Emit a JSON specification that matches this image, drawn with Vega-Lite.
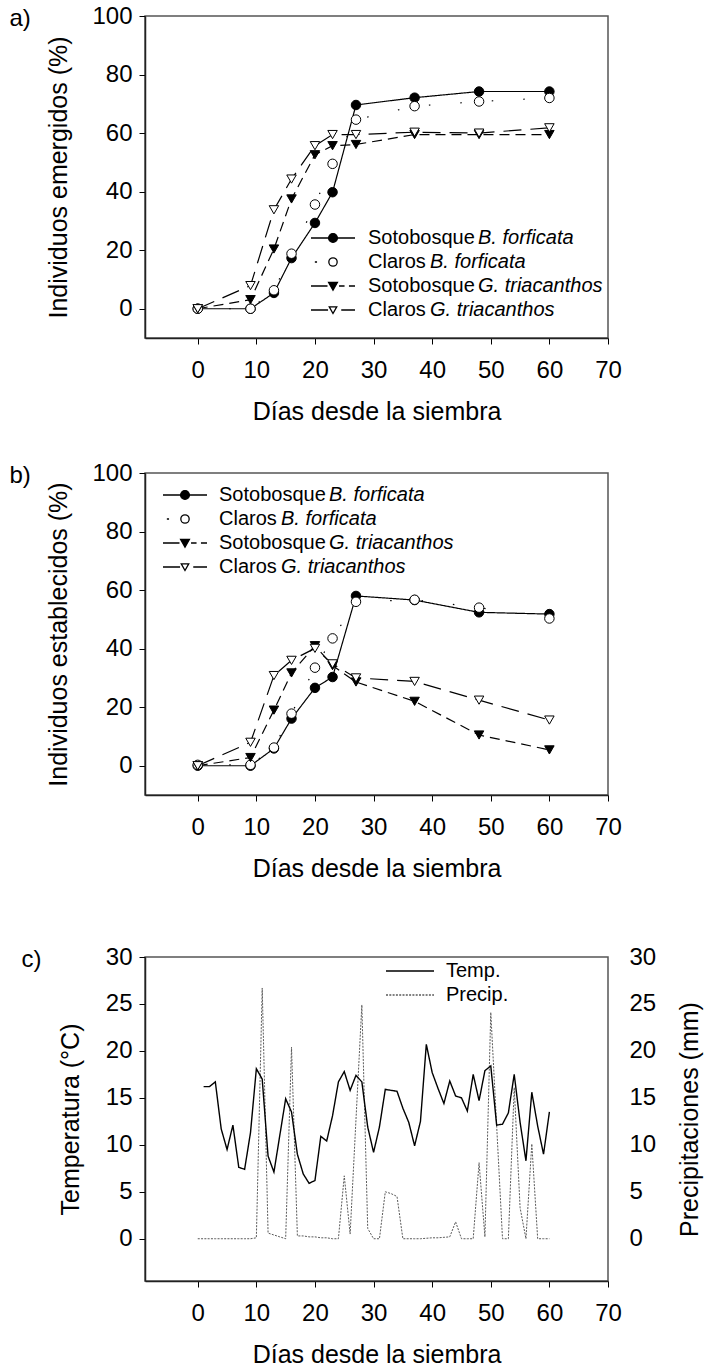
{
  "$schema": "https://vega.github.io/schema/vega-lite/v6.json",
  "background": "white",
  "padding": {"left": 8, "top": 3, "right": 0, "bottom": 0},
  "config": {
    "font": "Liberation Sans",
    "view": {"stroke": "#555", "strokeWidth": 1.5},
    "axis": {"grid": false, "labelFontSize": 24, "titleFontSize": 25, "titleFontWeight": "normal", "labelColor": "black", "titleColor": "black", "tickColor": "black", "tickSize": 6, "tickWidth": 1, "domainColor": "#222", "domainWidth": 1.5, "labelFlush": false, "labelOverlap": false},
    "axisX": {"labelPadding": 14, "titlePadding": 17},
    "axisY": {"labelPadding": 7, "titlePadding": 20},
    "legend": {"labelFontSize": 20, "labelColor": "black", "padding": 0, "rowPadding": 2}
  },
  "datasets": {
    "a": [
      {"serie": "Sotobosque B. forficata", "dia": 0, "valor": 0},
      {"serie": "Sotobosque B. forficata", "dia": 9, "valor": 0},
      {"serie": "Sotobosque B. forficata", "dia": 13, "valor": 5.4},
      {"serie": "Sotobosque B. forficata", "dia": 16, "valor": 17.3},
      {"serie": "Sotobosque B. forficata", "dia": 20, "valor": 29.3},
      {"serie": "Sotobosque B. forficata", "dia": 23, "valor": 39.8},
      {"serie": "Sotobosque B. forficata", "dia": 27, "valor": 69.6},
      {"serie": "Sotobosque B. forficata", "dia": 37, "valor": 72.1},
      {"serie": "Sotobosque B. forficata", "dia": 48, "valor": 74.2},
      {"serie": "Sotobosque B. forficata", "dia": 60, "valor": 74.2},
      {"serie": "Claros B. forficata", "dia": 0, "valor": 0},
      {"serie": "Claros B. forficata", "dia": 9, "valor": 0},
      {"serie": "Claros B. forficata", "dia": 13, "valor": 6.3},
      {"serie": "Claros B. forficata", "dia": 16, "valor": 18.8},
      {"serie": "Claros B. forficata", "dia": 20, "valor": 35.6},
      {"serie": "Claros B. forficata", "dia": 23, "valor": 49.5},
      {"serie": "Claros B. forficata", "dia": 27, "valor": 64.6},
      {"serie": "Claros B. forficata", "dia": 37, "valor": 69.2},
      {"serie": "Claros B. forficata", "dia": 48, "valor": 70.8},
      {"serie": "Claros B. forficata", "dia": 60, "valor": 72.0},
      {"serie": "Sotobosque G. triacanthos", "dia": 0, "valor": 0},
      {"serie": "Sotobosque G. triacanthos", "dia": 9, "valor": 3.1},
      {"serie": "Sotobosque G. triacanthos", "dia": 13, "valor": 20.4},
      {"serie": "Sotobosque G. triacanthos", "dia": 16, "valor": 37.5},
      {"serie": "Sotobosque G. triacanthos", "dia": 20, "valor": 52.6},
      {"serie": "Sotobosque G. triacanthos", "dia": 23, "valor": 55.7},
      {"serie": "Sotobosque G. triacanthos", "dia": 27, "valor": 56.1},
      {"serie": "Sotobosque G. triacanthos", "dia": 37, "valor": 59.5},
      {"serie": "Sotobosque G. triacanthos", "dia": 48, "valor": 59.5},
      {"serie": "Sotobosque G. triacanthos", "dia": 60, "valor": 59.5},
      {"serie": "Claros G. triacanthos", "dia": 0, "valor": 0},
      {"serie": "Claros G. triacanthos", "dia": 9, "valor": 7.9},
      {"serie": "Claros G. triacanthos", "dia": 13, "valor": 33.8},
      {"serie": "Claros G. triacanthos", "dia": 16, "valor": 44.3},
      {"serie": "Claros G. triacanthos", "dia": 20, "valor": 55.7},
      {"serie": "Claros G. triacanthos", "dia": 23, "valor": 59.5},
      {"serie": "Claros G. triacanthos", "dia": 27, "valor": 59.5},
      {"serie": "Claros G. triacanthos", "dia": 37, "valor": 60.3},
      {"serie": "Claros G. triacanthos", "dia": 48, "valor": 60.0},
      {"serie": "Claros G. triacanthos", "dia": 60, "valor": 61.8}
    ],
    "b": [
      {"serie": "Sotobosque B. forficata", "dia": 0, "valor": 0},
      {"serie": "Sotobosque B. forficata", "dia": 9, "valor": 0},
      {"serie": "Sotobosque B. forficata", "dia": 13, "valor": 5.9},
      {"serie": "Sotobosque B. forficata", "dia": 16, "valor": 16.1},
      {"serie": "Sotobosque B. forficata", "dia": 20, "valor": 26.6},
      {"serie": "Sotobosque B. forficata", "dia": 23, "valor": 30.3},
      {"serie": "Sotobosque B. forficata", "dia": 27, "valor": 58.0},
      {"serie": "Sotobosque B. forficata", "dia": 37, "valor": 56.6},
      {"serie": "Sotobosque B. forficata", "dia": 48, "valor": 52.4},
      {"serie": "Sotobosque B. forficata", "dia": 60, "valor": 51.8},
      {"serie": "Claros B. forficata", "dia": 0, "valor": 0.3},
      {"serie": "Claros B. forficata", "dia": 9, "valor": 0.3},
      {"serie": "Claros B. forficata", "dia": 13, "valor": 6.2},
      {"serie": "Claros B. forficata", "dia": 16, "valor": 17.8},
      {"serie": "Claros B. forficata", "dia": 20, "valor": 33.5},
      {"serie": "Claros B. forficata", "dia": 23, "valor": 43.5},
      {"serie": "Claros B. forficata", "dia": 27, "valor": 56.0},
      {"serie": "Claros B. forficata", "dia": 37, "valor": 56.7},
      {"serie": "Claros B. forficata", "dia": 48, "valor": 54.0},
      {"serie": "Claros B. forficata", "dia": 60, "valor": 50.3},
      {"serie": "Sotobosque G. triacanthos", "dia": 0, "valor": 0},
      {"serie": "Sotobosque G. triacanthos", "dia": 9, "valor": 2.8},
      {"serie": "Sotobosque G. triacanthos", "dia": 13, "valor": 19.0},
      {"serie": "Sotobosque G. triacanthos", "dia": 16, "valor": 31.7},
      {"serie": "Sotobosque G. triacanthos", "dia": 20, "valor": 41.0},
      {"serie": "Sotobosque G. triacanthos", "dia": 23, "valor": 34.2},
      {"serie": "Sotobosque G. triacanthos", "dia": 27, "valor": 28.6},
      {"serie": "Sotobosque G. triacanthos", "dia": 37, "valor": 22.0},
      {"serie": "Sotobosque G. triacanthos", "dia": 48, "valor": 10.5},
      {"serie": "Sotobosque G. triacanthos", "dia": 60, "valor": 5.4},
      {"serie": "Claros G. triacanthos", "dia": 0, "valor": 0},
      {"serie": "Claros G. triacanthos", "dia": 9, "valor": 8.0},
      {"serie": "Claros G. triacanthos", "dia": 13, "valor": 30.8},
      {"serie": "Claros G. triacanthos", "dia": 16, "valor": 36.0},
      {"serie": "Claros G. triacanthos", "dia": 20, "valor": 40.1},
      {"serie": "Claros G. triacanthos", "dia": 23, "valor": 34.8},
      {"serie": "Claros G. triacanthos", "dia": 27, "valor": 30.0},
      {"serie": "Claros G. triacanthos", "dia": 37, "valor": 28.8},
      {"serie": "Claros G. triacanthos", "dia": 48, "valor": 22.4},
      {"serie": "Claros G. triacanthos", "dia": 60, "valor": 15.6}
    ],
    "temp": [
      {"serie": "Temp.", "dia": 1, "valor": 16.2}, {"serie": "Temp.", "dia": 2, "valor": 16.2}, {"serie": "Temp.", "dia": 3, "valor": 16.7},
      {"serie": "Temp.", "dia": 4, "valor": 11.7}, {"serie": "Temp.", "dia": 5, "valor": 9.5}, {"serie": "Temp.", "dia": 6, "valor": 12.1},
      {"serie": "Temp.", "dia": 7, "valor": 7.6}, {"serie": "Temp.", "dia": 8, "valor": 7.4}, {"serie": "Temp.", "dia": 9, "valor": 11.3},
      {"serie": "Temp.", "dia": 10, "valor": 18.1}, {"serie": "Temp.", "dia": 11, "valor": 17.0}, {"serie": "Temp.", "dia": 12, "valor": 8.8},
      {"serie": "Temp.", "dia": 13, "valor": 7.1}, {"serie": "Temp.", "dia": 14, "valor": 11.0}, {"serie": "Temp.", "dia": 15, "valor": 14.9},
      {"serie": "Temp.", "dia": 16, "valor": 13.5}, {"serie": "Temp.", "dia": 17, "valor": 9.0}, {"serie": "Temp.", "dia": 18, "valor": 6.9},
      {"serie": "Temp.", "dia": 19, "valor": 5.9}, {"serie": "Temp.", "dia": 20, "valor": 6.2}, {"serie": "Temp.", "dia": 21, "valor": 10.9},
      {"serie": "Temp.", "dia": 22, "valor": 10.4}, {"serie": "Temp.", "dia": 23, "valor": 13.1}, {"serie": "Temp.", "dia": 24, "valor": 16.7},
      {"serie": "Temp.", "dia": 25, "valor": 17.8}, {"serie": "Temp.", "dia": 26, "valor": 15.8}, {"serie": "Temp.", "dia": 27, "valor": 17.4},
      {"serie": "Temp.", "dia": 28, "valor": 16.7}, {"serie": "Temp.", "dia": 29, "valor": 11.9}, {"serie": "Temp.", "dia": 30, "valor": 9.2},
      {"serie": "Temp.", "dia": 31, "valor": 11.9}, {"serie": "Temp.", "dia": 32, "valor": 15.9}, {"serie": "Temp.", "dia": 33, "valor": 15.8},
      {"serie": "Temp.", "dia": 34, "valor": 15.7}, {"serie": "Temp.", "dia": 35, "valor": 13.9}, {"serie": "Temp.", "dia": 36, "valor": 12.4},
      {"serie": "Temp.", "dia": 37, "valor": 9.9}, {"serie": "Temp.", "dia": 38, "valor": 12.5}, {"serie": "Temp.", "dia": 39, "valor": 20.7},
      {"serie": "Temp.", "dia": 40, "valor": 17.7}, {"serie": "Temp.", "dia": 41, "valor": 16.0}, {"serie": "Temp.", "dia": 42, "valor": 14.4},
      {"serie": "Temp.", "dia": 43, "valor": 16.8}, {"serie": "Temp.", "dia": 44, "valor": 15.2}, {"serie": "Temp.", "dia": 45, "valor": 15.0},
      {"serie": "Temp.", "dia": 46, "valor": 13.6}, {"serie": "Temp.", "dia": 47, "valor": 17.5}, {"serie": "Temp.", "dia": 48, "valor": 14.7},
      {"serie": "Temp.", "dia": 49, "valor": 17.9}, {"serie": "Temp.", "dia": 50, "valor": 18.4}, {"serie": "Temp.", "dia": 51, "valor": 12.1},
      {"serie": "Temp.", "dia": 52, "valor": 12.2}, {"serie": "Temp.", "dia": 53, "valor": 13.4}, {"serie": "Temp.", "dia": 54, "valor": 17.5},
      {"serie": "Temp.", "dia": 55, "valor": 12.4}, {"serie": "Temp.", "dia": 56, "valor": 8.3}, {"serie": "Temp.", "dia": 57, "valor": 15.6},
      {"serie": "Temp.", "dia": 58, "valor": 12.0}, {"serie": "Temp.", "dia": 59, "valor": 9.0}, {"serie": "Temp.", "dia": 60, "valor": 13.5}
    ],
    "prec": [
      {"serie": "Precip.", "dia": 0, "valor": 0}, {"serie": "Precip.", "dia": 1, "valor": 0}, {"serie": "Precip.", "dia": 2, "valor": 0},
      {"serie": "Precip.", "dia": 3, "valor": 0}, {"serie": "Precip.", "dia": 4, "valor": 0}, {"serie": "Precip.", "dia": 5, "valor": 0},
      {"serie": "Precip.", "dia": 6, "valor": 0}, {"serie": "Precip.", "dia": 7, "valor": 0}, {"serie": "Precip.", "dia": 8, "valor": 0},
      {"serie": "Precip.", "dia": 9, "valor": 0}, {"serie": "Precip.", "dia": 10, "valor": 0.1}, {"serie": "Precip.", "dia": 11, "valor": 26.7},
      {"serie": "Precip.", "dia": 12, "valor": 0.6}, {"serie": "Precip.", "dia": 13, "valor": 0.4}, {"serie": "Precip.", "dia": 14, "valor": 0.2},
      {"serie": "Precip.", "dia": 15, "valor": 0}, {"serie": "Precip.", "dia": 16, "valor": 20.4}, {"serie": "Precip.", "dia": 17, "valor": 0.3},
      {"serie": "Precip.", "dia": 18, "valor": 0.3}, {"serie": "Precip.", "dia": 19, "valor": 0.2}, {"serie": "Precip.", "dia": 20, "valor": 0.2},
      {"serie": "Precip.", "dia": 21, "valor": 0.1}, {"serie": "Precip.", "dia": 22, "valor": 0.1}, {"serie": "Precip.", "dia": 23, "valor": 0},
      {"serie": "Precip.", "dia": 24, "valor": 0}, {"serie": "Precip.", "dia": 25, "valor": 6.7}, {"serie": "Precip.", "dia": 26, "valor": 0.5},
      {"serie": "Precip.", "dia": 28, "valor": 24.9}, {"serie": "Precip.", "dia": 29, "valor": 1.1}, {"serie": "Precip.", "dia": 30, "valor": 0},
      {"serie": "Precip.", "dia": 31, "valor": 0}, {"serie": "Precip.", "dia": 32, "valor": 5.0}, {"serie": "Precip.", "dia": 33, "valor": 4.8},
      {"serie": "Precip.", "dia": 34, "valor": 4.5}, {"serie": "Precip.", "dia": 35, "valor": 0}, {"serie": "Precip.", "dia": 36, "valor": 0},
      {"serie": "Precip.", "dia": 37, "valor": 0}, {"serie": "Precip.", "dia": 38, "valor": 0}, {"serie": "Precip.", "dia": 39, "valor": 0.05},
      {"serie": "Precip.", "dia": 40, "valor": 0.1}, {"serie": "Precip.", "dia": 41, "valor": 0.1}, {"serie": "Precip.", "dia": 42, "valor": 0.15},
      {"serie": "Precip.", "dia": 43, "valor": 0.2}, {"serie": "Precip.", "dia": 44, "valor": 1.8}, {"serie": "Precip.", "dia": 45, "valor": 0},
      {"serie": "Precip.", "dia": 46, "valor": 0}, {"serie": "Precip.", "dia": 47, "valor": 0}, {"serie": "Precip.", "dia": 48, "valor": 8.1},
      {"serie": "Precip.", "dia": 49, "valor": 0.2}, {"serie": "Precip.", "dia": 50, "valor": 24.1}, {"serie": "Precip.", "dia": 52, "valor": 0},
      {"serie": "Precip.", "dia": 53, "valor": 0}, {"serie": "Precip.", "dia": 54, "valor": 16.1}, {"serie": "Precip.", "dia": 55, "valor": 3.3},
      {"serie": "Precip.", "dia": 56, "valor": 0}, {"serie": "Precip.", "dia": 57, "valor": 10.1}, {"serie": "Precip.", "dia": 58, "valor": 0},
      {"serie": "Precip.", "dia": 59, "valor": 0}, {"serie": "Precip.", "dia": 60, "valor": 0}
    ]
  },
  "spacing": 35,
  "resolve": {
    "scale": {"strokeDash": "independent", "shape": "independent", "fill": "independent", "color": "independent"},
    "legend": {"strokeDash": "independent", "shape": "independent", "fill": "independent", "color": "independent"}
  },
  "vconcat": [
    {
      "width": 463, "height": 322,
      "data": {"name": "a"},
      "resolve": {"scale": {"shape": "independent", "fill": "independent"}, "legend": {"shape": "independent", "fill": "independent"}, "axis": {"x": "independent"}},
      "layer": [
        {
          "mark": {"type": "line", "color": "black", "strokeWidth": 1.2},
          "encoding": {
            "x": {"field": "dia", "type": "quantitative", "scale": {"domain": [-9, 70], "nice": false, "zero": false}, "axis": {"values": [0, 10, 20, 30, 40, 50, 60, 70], "title": "Días desde la siembra"}},
            "y": {"field": "valor", "type": "quantitative", "scale": {"domain": [-10, 100], "nice": false, "zero": false}, "axis": {"values": [0, 20, 40, 60, 80, 100], "title": "Individuos emergidos (%)"}},
            "strokeDash": {"field": "serie", "type": "nominal", "scale": {"domain": ["Sotobosque B. forficata", "Claros B. forficata", "Sotobosque G. triacanthos", "Claros G. triacanthos"], "range": [[1, 0], [1.5, 30], [10, 6], [18, 9]]}, "legend": null}
          }
        },
        {
          "mark": {"type": "point", "filled": true, "size": 90, "stroke": "black", "strokeWidth": 1, "opacity": 1},
          "encoding": {
            "x": {"field": "dia", "type": "quantitative", "axis": {"orient": "top", "labels": false, "ticks": false, "domain": false, "title": "a)", "titleX": -136, "titleY": 2, "titleAngle": 0, "titleAlign": "left", "titleBaseline": "middle", "titleFontSize": 24}},
            "y": {"field": "valor", "type": "quantitative"},
            "shape": {"field": "serie", "type": "nominal", "scale": {"domain": ["Sotobosque B. forficata", "Claros B. forficata", "Sotobosque G. triacanthos", "Claros G. triacanthos"], "range": ["circle", "circle", "triangle-down", "triangle-down"]}, "legend": null},
            "fill": {"field": "serie", "type": "nominal", "scale": {"domain": ["Sotobosque B. forficata", "Claros B. forficata", "Sotobosque G. triacanthos", "Claros G. triacanthos"], "range": ["black", "white", "black", "white"]}, "legend": null}
          }
        },
        {
          "mark": {"type": "point", "filled": true, "size": 90, "opacity": 0, "stroke": "black", "strokeWidth": 1.3},
          "encoding": {
            "x": {"field": "dia", "type": "quantitative", "axis": null},
            "y": {"field": "valor", "type": "quantitative"},
            "shape": {"field": "serie", "type": "nominal", "scale": {"domain": ["Sotobosque B. forficata", "Claros B. forficata", "Sotobosque G. triacanthos", "Claros G. triacanthos"], "range": ["M-2,0H2M0.4,0A0.4,0.4,0,1,1,-0.4,0A0.4,0.4,0,1,1,0.4,0Z", "M-1.65,0H-1.45M0.38,0A0.38,0.38,0,1,1,-0.38,0A0.38,0.38,0,1,1,0.38,0Z", "M-2,0H-0.5M0.55,0H1.05M1.45,0H2M-0.4,-0.32H0.4L0,0.38Z", "M-2,0H-0.45M0.75,0H2M-0.34,-0.28H0.34L0,0.32Z"]},
              "legend": {"title": null, "orient": "none", "legendX": 166, "legendY": 210, "symbolSize": 484, "symbolStrokeWidth": 1.3, "symbolOpacity": 1, "symbolOffset": 10, "labelOffset": 23, "labelExpr": "slice(datum.label, 0, indexof(datum.label, ' '))"}},
            "fill": {"field": "serie", "type": "nominal", "scale": {"domain": ["Sotobosque B. forficata", "Claros B. forficata", "Sotobosque G. triacanthos", "Claros G. triacanthos"], "range": ["black", "white", "black", "white"]},
              "legend": {"title": null, "orient": "none", "legendX": 166, "legendY": 210, "symbolSize": 484, "symbolStrokeWidth": 1.3, "symbolOpacity": 1, "symbolOffset": 10, "labelOffset": 23, "labelExpr": "slice(datum.label, 0, indexof(datum.label, ' '))"}}
          }
        },
        {
          "mark": {"type": "point", "filled": true, "size": 90, "opacity": 0},
          "encoding": {
            "x": {"field": "dia", "type": "quantitative", "axis": null},
            "y": {"field": "valor", "type": "quantitative"},
            "fill": {"field": "serie", "type": "nominal", "scale": {"domain": ["Sotobosque B. forficata", "Claros B. forficata", "Sotobosque G. triacanthos", "Claros G. triacanthos"], "range": ["black", "black", "black", "black"]},
              "legend": {"title": null, "orient": "none", "legendX": 276, "legendY": 210, "symbolType": "M0,-0.9V0.9", "symbolSize": 484, "symbolOpacity": 0, "symbolOffset": 10, "labelOffset": 23, "labelFontStyle": "italic", "labelExpr": "indexof(datum.label, 'Soto') === 0 ? slice(datum.label, indexof(datum.label, ' ') + 1) : ' '"}}
          }
        },
        {
          "mark": {"type": "point", "filled": true, "size": 90, "opacity": 0},
          "encoding": {
            "x": {"field": "dia", "type": "quantitative", "axis": null},
            "y": {"field": "valor", "type": "quantitative"},
            "fill": {"field": "serie", "type": "nominal", "scale": {"domain": ["Sotobosque B. forficata", "Claros B. forficata", "Sotobosque G. triacanthos", "Claros G. triacanthos"], "range": ["black", "black", "black", "black"]},
              "legend": {"title": null, "orient": "none", "legendX": 228, "legendY": 210, "symbolType": "M0,-0.9V0.9", "symbolSize": 484, "symbolOpacity": 0, "symbolOffset": 10, "labelOffset": 23, "labelFontStyle": "italic", "labelExpr": "indexof(datum.label, 'Claros') === 0 ? slice(datum.label, indexof(datum.label, ' ') + 1) : ' '"}}
          }
        }
      ]
    },
    {
      "width": 463, "height": 322,
      "data": {"name": "b"},
      "resolve": {"scale": {"shape": "independent", "fill": "independent"}, "legend": {"shape": "independent", "fill": "independent"}, "axis": {"x": "independent"}},
      "layer": [
        {
          "mark": {"type": "line", "color": "black", "strokeWidth": 1.2},
          "encoding": {
            "x": {"field": "dia", "type": "quantitative", "scale": {"domain": [-9, 70], "nice": false, "zero": false}, "axis": {"values": [0, 10, 20, 30, 40, 50, 60, 70], "title": "Días desde la siembra"}},
            "y": {"field": "valor", "type": "quantitative", "scale": {"domain": [-10, 100], "nice": false, "zero": false}, "axis": {"values": [0, 20, 40, 60, 80, 100], "title": "Individuos  establecidos (%)"}},
            "strokeDash": {"field": "serie", "type": "nominal", "scale": {"domain": ["Sotobosque B. forficata", "Claros B. forficata", "Sotobosque G. triacanthos", "Claros G. triacanthos"], "range": [[1, 0], [1.5, 30], [10, 6], [18, 9]]}, "legend": null}
          }
        },
        {
          "mark": {"type": "point", "filled": true, "size": 90, "stroke": "black", "strokeWidth": 1, "opacity": 1},
          "encoding": {
            "x": {"field": "dia", "type": "quantitative", "axis": {"orient": "top", "labels": false, "ticks": false, "domain": false, "title": "b)", "titleX": -136, "titleY": 2, "titleAngle": 0, "titleAlign": "left", "titleBaseline": "middle", "titleFontSize": 24}},
            "y": {"field": "valor", "type": "quantitative"},
            "shape": {"field": "serie", "type": "nominal", "scale": {"domain": ["Sotobosque B. forficata", "Claros B. forficata", "Sotobosque G. triacanthos", "Claros G. triacanthos"], "range": ["circle", "circle", "triangle-down", "triangle-down"]}, "legend": null},
            "fill": {"field": "serie", "type": "nominal", "scale": {"domain": ["Sotobosque B. forficata", "Claros B. forficata", "Sotobosque G. triacanthos", "Claros G. triacanthos"], "range": ["black", "white", "black", "white"]}, "legend": null}
          }
        },
        {
          "mark": {"type": "point", "filled": true, "size": 90, "opacity": 0, "stroke": "black", "strokeWidth": 1.3},
          "encoding": {
            "x": {"field": "dia", "type": "quantitative", "axis": null},
            "y": {"field": "valor", "type": "quantitative"},
            "shape": {"field": "serie", "type": "nominal", "scale": {"domain": ["Sotobosque B. forficata", "Claros B. forficata", "Sotobosque G. triacanthos", "Claros G. triacanthos"], "range": ["M-2,0H2M0.4,0A0.4,0.4,0,1,1,-0.4,0A0.4,0.4,0,1,1,0.4,0Z", "M-1.65,0H-1.45M0.38,0A0.38,0.38,0,1,1,-0.38,0A0.38,0.38,0,1,1,0.38,0Z", "M-2,0H-0.5M0.55,0H1.05M1.45,0H2M-0.4,-0.32H0.4L0,0.38Z", "M-2,0H-0.45M0.75,0H2M-0.34,-0.28H0.34L0,0.32Z"]},
              "legend": {"title": null, "orient": "none", "legendX": 18, "legendY": 10, "symbolSize": 484, "symbolStrokeWidth": 1.3, "symbolOpacity": 1, "symbolOffset": 10, "labelOffset": 22, "labelExpr": "slice(datum.label, 0, indexof(datum.label, ' '))"}},
            "fill": {"field": "serie", "type": "nominal", "scale": {"domain": ["Sotobosque B. forficata", "Claros B. forficata", "Sotobosque G. triacanthos", "Claros G. triacanthos"], "range": ["black", "white", "black", "white"]},
              "legend": {"title": null, "orient": "none", "legendX": 18, "legendY": 10, "symbolSize": 484, "symbolStrokeWidth": 1.3, "symbolOpacity": 1, "symbolOffset": 10, "labelOffset": 22, "labelExpr": "slice(datum.label, 0, indexof(datum.label, ' '))"}}
          }
        },
        {
          "mark": {"type": "point", "filled": true, "size": 90, "opacity": 0},
          "encoding": {
            "x": {"field": "dia", "type": "quantitative", "axis": null},
            "y": {"field": "valor", "type": "quantitative"},
            "fill": {"field": "serie", "type": "nominal", "scale": {"domain": ["Sotobosque B. forficata", "Claros B. forficata", "Sotobosque G. triacanthos", "Claros G. triacanthos"], "range": ["black", "black", "black", "black"]},
              "legend": {"title": null, "orient": "none", "legendX": 128, "legendY": 10, "symbolType": "M0,-0.9V0.9", "symbolSize": 484, "symbolOpacity": 0, "symbolOffset": 10, "labelOffset": 22, "labelFontStyle": "italic", "labelExpr": "indexof(datum.label, 'Soto') === 0 ? slice(datum.label, indexof(datum.label, ' ') + 1) : ' '"}}
          }
        },
        {
          "mark": {"type": "point", "filled": true, "size": 90, "opacity": 0},
          "encoding": {
            "x": {"field": "dia", "type": "quantitative", "axis": null},
            "y": {"field": "valor", "type": "quantitative"},
            "fill": {"field": "serie", "type": "nominal", "scale": {"domain": ["Sotobosque B. forficata", "Claros B. forficata", "Sotobosque G. triacanthos", "Claros G. triacanthos"], "range": ["black", "black", "black", "black"]},
              "legend": {"title": null, "orient": "none", "legendX": 80, "legendY": 10, "symbolType": "M0,-0.9V0.9", "symbolSize": 484, "symbolOpacity": 0, "symbolOffset": 10, "labelOffset": 22, "labelFontStyle": "italic", "labelExpr": "indexof(datum.label, 'Claros') === 0 ? slice(datum.label, indexof(datum.label, ' ') + 1) : ' '"}}
          }
        }
      ]
    },
    {
      "width": 463, "height": 324,
      "title": {"text": " ", "fontSize": 24, "offset": 3},
      "resolve": {"scale": {"y": "independent"}, "axis": {"x": "independent"}},
      "layer": [
        {
          "data": {"name": "prec"},
          "mark": {"type": "line", "strokeWidth": 1},
          "encoding": {
            "x": {"field": "dia", "type": "quantitative", "scale": {"domain": [-9, 70], "nice": false, "zero": false}, "axis": {"orient": "top", "labels": false, "ticks": false, "domain": false, "title": "c)", "titleX": -124, "titleY": 2, "titleAngle": 0, "titleAlign": "left", "titleBaseline": "middle", "titleFontSize": 24}},
            "y": {"field": "valor", "type": "quantitative", "scale": {"domain": [-4.5, 30], "nice": false, "zero": false}, "axis": {"orient": "right", "values": [0, 5, 10, 15, 20, 25, 30], "title": "Precipitaciones (mm)", "ticks": false, "tickSize": 0, "labelPadding": 21, "titlePadding": 47, "titleAngle": 270, "domain": false}},
            "strokeDash": {"field": "serie", "type": "nominal", "scale": {"domain": ["Temp.", "Precip."], "range": [[1, 0], [2, 1.3]]},
              "legend": {"title": null, "orient": "none", "legendX": 241, "legendY": 1, "rowPadding": 1, "symbolType": "M-2,0H2", "symbolSize": 576, "symbolStrokeWidth": 1.6, "symbolOffset": 11, "labelOffset": 23}},
            "color": {"field": "serie", "type": "nominal", "scale": {"domain": ["Temp.", "Precip."], "range": ["black", "#5a5a5a"]},
              "legend": {"title": null, "orient": "none", "legendX": 241, "legendY": 1, "rowPadding": 1, "symbolType": "M-2,0H2", "symbolSize": 576, "symbolStrokeWidth": 1.6, "symbolOffset": 11, "labelOffset": 23}}
          }
        },
        {
          "data": {"name": "temp"},
          "mark": {"type": "line", "strokeWidth": 1.4},
          "encoding": {
            "x": {"field": "dia", "type": "quantitative", "axis": {"values": [0, 10, 20, 30, 40, 50, 60, 70], "title": "Días desde la siembra"}},
            "y": {"field": "valor", "type": "quantitative", "scale": {"domain": [-4.5, 30], "nice": false, "zero": false}, "axis": {"values": [0, 5, 10, 15, 20, 25, 30], "title": "Temperatura (°C)", "titlePadding": 22}},
            "strokeDash": {"field": "serie", "type": "nominal"},
            "color": {"field": "serie", "type": "nominal"}
          }
        }
      ]
    }
  ]
}
